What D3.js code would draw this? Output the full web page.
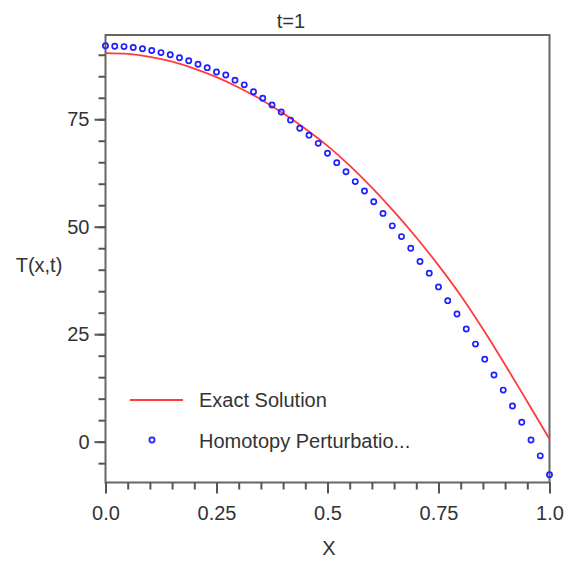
<!DOCTYPE html>
<html>
<head>
<meta charset="utf-8">
<script src="https://cdn.jsdelivr.net/npm/d3@7"></script>
<style>
  body { margin: 0; background: #fff; }
  svg text { font-family: "Liberation Sans", Arial, sans-serif; fill: #333; }
</style>
</head>
<body>
<div id="chart"></div>
<script>
// exact solution
var exactX = [0, 0.05, 0.1, 0.15, 0.2, 0.25, 0.3, 0.35, 0.4, 0.45, 0.5,
              0.55, 0.6, 0.65, 0.7, 0.75, 0.8, 0.85, 0.9, 0.95, 1.0];
var exactT = [90.4, 90.2, 89.5, 88.4, 86.8, 84.8, 82.4, 79.6, 76.4, 72.8, 68.8,
              64.2, 59.1, 53.5, 47.5, 41.0, 34.0, 26.2, 17.9, 9.3, 0.6];

// homotopy perturbation points (49 points, step 1/48)
var hpmT = [92.1, 92.0, 91.9, 91.7, 91.4, 91.0, 90.5, 90.0, 89.3, 88.6,
            87.8, 87.0, 86.0, 85.3, 84.1, 83.0, 81.4, 79.9, 78.3, 76.7,
            74.8, 72.9, 71.3, 69.4, 67.1, 64.9, 62.8, 60.5, 58.3, 55.8,
            53.1, 50.2, 47.7, 45.0, 41.9, 39.2, 36.0, 32.8, 29.7, 26.2,
            22.7, 19.2, 15.5, 12.0, 8.3, 4.5, 0.4, -3.3, -7.7];
var hpmX = hpmT.map(function(d, i) { return i / 48; });

var xMajor = [0, 0.25, 0.5, 0.75, 1.0];
var xLabels = ["0.0", "0.25", "0.5", "0.75", "1.0"];
var yMajor = [0, 25, 50, 75];
var xMinor = d3.range(0, 1.0001, 0.05);
var yMinor = d3.range(-5, 91, 5);

var width = 567, height = 561;
var plot = {left: 105.5, right: 549.5, top: 35, bottom: 482.5};

var svg = d3.select('#chart').append('svg')
    .attr('width', width)
    .attr('height', height);

var xScale = d3.scaleLinear().domain([0, 1]).range([plot.left, plot.right]);
var yScale = d3.scaleLinear().domain([-9.5, 94.6]).range([plot.bottom, plot.top]);

// frame
svg.append('rect')
    .attr('x', plot.left).attr('y', plot.top)
    .attr('width', plot.right - plot.left)
    .attr('height', plot.bottom - plot.top)
    .attr('fill', 'none')
    .attr('stroke', '#666')
    .attr('stroke-width', 2);

// x axis: minor then major ticks
svg.append('g')
    .attr('transform', `translate(0,${plot.bottom})`)
    .call(d3.axisBottom(xScale).tickValues(xMinor).tickSize(7).tickFormat(''))
    .call(function(g) { g.select('.domain').remove(); });

svg.append('g')
    .attr('class', 'x axis')
    .attr('transform', `translate(0,${plot.bottom})`)
    .call(d3.axisBottom(xScale).tickValues(xMajor).tickSize(11).tickPadding(12)
        .tickFormat(function(d, i) { return xLabels[i]; }))
    .call(function(g) { g.select('.domain').remove(); });

// y axis
svg.append('g')
    .attr('transform', `translate(${plot.left},0)`)
    .call(d3.axisLeft(yScale).tickValues(yMinor).tickSize(7).tickFormat(''))
    .call(function(g) { g.select('.domain').remove(); });

svg.append('g')
    .attr('class', 'y axis')
    .attr('transform', `translate(${plot.left},0)`)
    .call(d3.axisLeft(yScale).tickValues(yMajor).tickSize(11).tickPadding(5))
    .call(function(g) { g.select('.domain').remove(); });

svg.selectAll('.tick line').attr('stroke', '#555').attr('stroke-width', 2);
svg.selectAll('.tick text').attr('font-size', 20).style('fill', '#333');

// titles
svg.append('text').attr('x', 291).attr('y', 28).attr('text-anchor', 'middle')
    .attr('font-size', 20).text('t=1');
svg.append('text').attr('x', 329).attr('y', 555).attr('text-anchor', 'middle')
    .attr('font-size', 20).text('X');
svg.append('text').attr('x', 39).attr('y', 272).attr('text-anchor', 'middle')
    .attr('font-size', 20).text('T(x,t)');

// exact solution line
var line = d3.line()
    .x(function(d, i) { return xScale(exactX[i]); })
    .y(function(d) { return yScale(d); })
    .curve(d3.curveMonotoneX);

svg.append('path')
    .datum(exactT)
    .attr('d', line)
    .attr('fill', 'none')
    .attr('stroke', '#ff3b3b')
    .attr('stroke-width', 1.8);

// HPM points
svg.selectAll('circle.dot')
    .data(hpmT)
    .enter()
    .append('circle')
    .attr('class', 'dot')
    .attr('cx', function(d, i) { return xScale(hpmX[i]); })
    .attr('cy', function(d) { return yScale(d); })
    .attr('r', 2.6)
    .attr('fill', 'none')
    .attr('stroke', '#1f1fff')
    .attr('stroke-width', 1.7);

// legend
var legend = svg.append('g');
legend.append('line')
    .attr('x1', 130).attr('x2', 183).attr('y1', 400).attr('y2', 400)
    .attr('stroke', '#ff3b3b').attr('stroke-width', 1.8);
legend.append('text').attr('x', 199).attr('y', 407)
    .attr('font-size', 20).text('Exact Solution');
legend.append('circle')
    .attr('cx', 152).attr('cy', 440).attr('r', 2.6)
    .attr('fill', 'none').attr('stroke', '#1f1fff').attr('stroke-width', 1.7);
legend.append('text').attr('x', 199).attr('y', 448)
    .attr('font-size', 20).text('Homotopy Perturbatio...');
</script>
</body>
</html>
